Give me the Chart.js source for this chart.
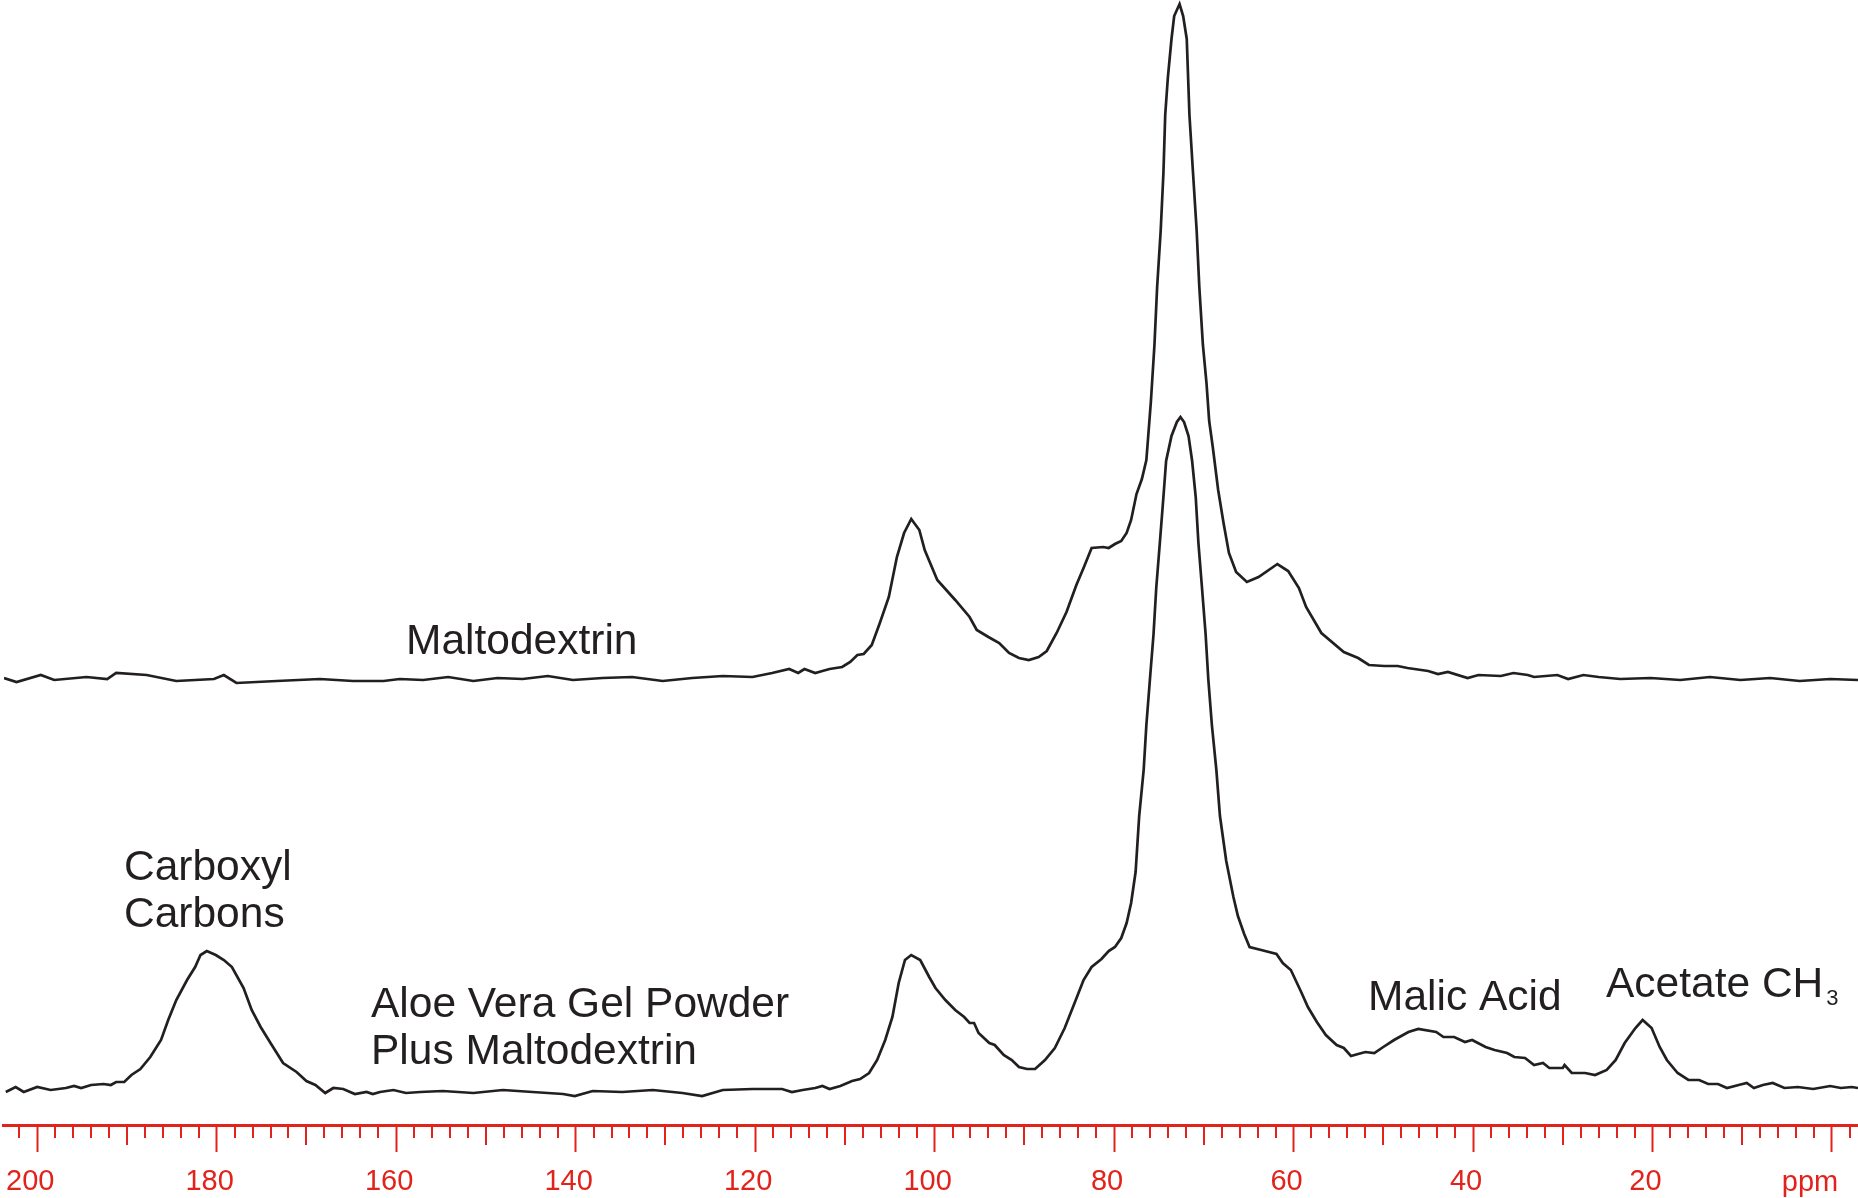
<!DOCTYPE html>
<html>
<head>
<meta charset="utf-8">
<script src="https://cdn.jsdelivr.net/npm/chart.js@4.4.0/dist/chart.umd.min.js"></script>
<style>
  html, body { margin: 0; padding: 0; background: #fff; overflow: hidden; }
</style>
</head>
<body>
<canvas id="nmrChart" width="1858" height="1198"></canvas>
<script>
// 13C CP/MAS spectra, chemical shift in ppm, intensity in arbitrary units (baseline = 0)
const maltoPpm = [203.7,202.3,199.6,198.1,194.5,192.2,191.2,187.8,184.5,180.3,179.2,177.8,173.3,168.5,164.8,161.4,159.6,157.0,154.2,151.4,148.7,145.9,143.1,140.3,137.0,133.7,130.3,127.0,123.6,120.3,118.1,116.2,115.2,114.5,113.3,112.5,111.7,110.3,109.4,108.6,107.9,107.0,106.1,105.1,104.2,103.4,102.6,101.7,101.1,99.7,97.7,96.1,95.3,94.0,92.8,91.7,90.6,89.5,88.4,87.5,86.4,85.3,84.2,83.4,82.5,81.2,80.6,79.9,79.2,78.6,78.1,77.5,76.9,76.4,75.9,75.5,75.2,74.8,74.5,74.3,74.0,73.6,73.3,72.7,72.3,71.9,71.6,71.2,70.8,70.5,70.1,69.7,69.4,69.0,68.4,67.8,67.2,66.4,65.2,63.9,61.8,60.6,59.4,58.6,56.9,54.4,52.8,51.6,49.9,48.4,47.3,45.0,43.9,42.8,40.6,39.4,36.9,35.5,33.9,33.2,30.6,29.4,27.7,26.0,23.6,20.2,16.9,13.6,10.2,6.9,3.6,0.2,-2.9];
const maltoIntensity = [1,-3,4,-1,2,0,6,4,-2,0,4,-4,-2,0,-2,-2,0,-1,2,-2,1,0,3,-1,1,2,-2,1,3,2,6,10,6,10,6,8,10,12,17,24,25,34,56,82,122,146,160,149,129,99,79,62,49,42,36,26,21,19,22,28,46,67,94,111,131,132,131,135,138,146,159,185,200,219,277,334,392,449,506,564,602,640,663,675,663,640,564,506,449,392,334,296,258,232,189,156,126,107,97,102,115,108,91,72,46,27,21,14,13,13,11,8,5,7,1,4,3,6,4,2,4,0,4,2,0,1,-1,2,-1,1,-2,0,-1];

const aloePpm = [203.5,202.4,201.5,200.0,198.5,196.8,195.9,195.1,194.0,192.6,191.8,191.2,190.3,189.5,188.5,187.4,186.2,185.4,184.5,183.3,182.4,181.8,181.1,180.1,179.2,178.3,177.0,176.1,175.1,174.0,172.6,171.1,170.0,169.0,167.9,167.0,165.9,164.6,163.3,162.6,161.8,160.3,158.9,157.3,154.8,151.4,148.1,144.8,141.4,140.1,138.1,134.8,131.4,128.1,125.9,123.6,120.3,117.0,115.9,114.7,113.3,112.5,111.7,110.5,109.2,108.3,107.3,106.4,105.5,104.7,104.0,103.3,102.6,101.6,100.6,99.9,98.8,97.7,96.7,96.1,95.6,95.1,93.9,93.3,92.3,91.4,90.6,89.7,88.8,87.7,86.6,85.5,84.4,83.4,82.5,81.4,80.6,79.9,79.2,78.6,78.1,77.6,77.2,76.7,76.4,76.0,75.6,75.3,74.9,74.5,74.2,73.6,73.0,72.6,72.2,71.7,71.3,70.9,70.6,70.2,69.8,69.5,69.1,68.6,68.2,67.5,66.7,66.2,65.5,64.9,63.6,61.9,61.2,60.3,59.2,58.4,57.4,56.4,55.2,54.4,53.6,52.8,52.0,51.0,50.0,48.8,47.2,46.1,44.1,43.3,42.1,40.9,40.1,38.6,37.6,36.2,35.4,34.2,33.2,32.2,31.5,30.0,29.8,29.0,27.5,26.4,25.1,24.1,23.1,21.9,21.1,20.1,19.2,18.4,17.2,16.0,14.8,13.8,12.7,11.7,10.4,9.5,8.7,7.7,6.6,5.3,3.8,2.1,0.2,-1.0,-2.2,-2.9];
const aloeIntensity = [-5,0,-5,0,-3,-1,1,-1,2,3,2,5,5,12,18,30,47,67,87,107,120,132,136,132,127,120,99,77,60,44,24,15,6,2,-6,-1,-2,-7,-5,-7,-5,-3,-6,-5,-4,-6,-3,-5,-7,-9,-4,-5,-3,-6,-9,-3,-2,-2,-5,-3,-1,1,-2,1,6,8,14,27,47,70,104,127,132,127,110,99,87,77,70,64,64,54,44,42,32,27,20,18,18,27,39,59,84,107,120,128,136,140,149,164,184,215,271,317,362,408,453,499,544,590,626,651,665,670,665,651,626,590,544,499,453,408,362,317,271,226,190,171,153,140,137,133,124,117,96,80,65,52,42,39,31,33,35,34,40,47,55,58,55,50,50,45,47,40,37,34,30,29,22,24,19,19,22,14,14,12,17,27,44,59,67,59,40,27,14,7,7,3,3,-1,2,4,-1,2,4,-1,0,-2,1,-1,0,-1];

// axis ticks
const majorTicks = [200,180,160,140,120,100,80,60,40,20];
const axisUnit = 'ppm';

// annotation texts
const maltoLabel = 'Maltodextrin';
const carboxylLabel = ['Carboxyl', 'Carbons'];
const aloeLabel = ['Aloe Vera Gel Powder', 'Plus Maltodextrin'];
const malicLabel = 'Malic Acid';
const acetateLabel = ['Acetate CH', '3'];

const axisRed = '#e2231c';
const inkColor = '#231f20';
const fontFamily = '"Liberation Sans", Arial, Helvetica, sans-serif';

function toPoints(xs, ys) {
    return xs.map((x, i) => ({x: x, y: ys[i]}));
}

// minor ticks, unit label and peak names
const spectrumDecor = {
    id: 'spectrumDecor',
    afterDraw(chart) {
        const ctx = chart.ctx;
        const xScale = chart.scales.x;
        const axisY = chart.chartArea.bottom;
        ctx.save();
        ctx.strokeStyle = axisRed;
        ctx.lineWidth = 2;
        for (let p = -2; p <= 202; p += 2) {
            if (p % 20 === 0) continue;
            const len = (p % 10 === 0) ? 20 : 13;
            const px = Math.round(xScale.getPixelForValue(p));
            ctx.beginPath();
            ctx.moveTo(px, axisY);
            ctx.lineTo(px, axisY + len);
            ctx.stroke();
        }
        ctx.fillStyle = axisRed;
        ctx.font = '29px ' + fontFamily;
        ctx.textAlign = 'center';
        ctx.textBaseline = 'middle';
        ctx.fillText(axisUnit, xScale.getPixelForValue(0) - 22, 1183);

        ctx.fillStyle = inkColor;
        ctx.textAlign = 'left';
        ctx.textBaseline = 'alphabetic';
        ctx.font = '42.5px ' + fontFamily;
        ctx.fillText(maltoLabel, 406, 654);
        ctx.fillText(carboxylLabel[0], 124, 880);
        ctx.fillText(carboxylLabel[1], 124, 927);
        ctx.fillText(aloeLabel[0], 371, 1017);
        ctx.fillText(aloeLabel[1], 371, 1064);
        ctx.fillText(malicLabel, 1368, 1010);
        ctx.fillText(acetateLabel[0], 1606, 997);
        const w = ctx.measureText(acetateLabel[0]).width;
        ctx.font = '22px ' + fontFamily;
        ctx.fillText(acetateLabel[1], 1606 + w + 3, 1005);
        ctx.restore();
    }
};

new Chart(document.getElementById('nmrChart'), {
    type: 'line',
    data: {
        datasets: [{
            label: 'Maltodextrin',
            data: toPoints(maltoPpm, maltoIntensity),
            yAxisID: 'yTop',
            borderColor: inkColor,
            borderWidth: 2.7,
            pointRadius: 0,
            tension: 0
        }, {
            label: 'Aloe Vera Gel Powder Plus Maltodextrin',
            data: toPoints(aloePpm, aloeIntensity),
            yAxisID: 'y',
            borderColor: inkColor,
            borderWidth: 2.7,
            pointRadius: 0,
            tension: 0
        }]
    },
    options: {
        responsive: false,
        animation: false,
        layout: { padding: 0 },
        plugins: {
            legend: { display: false },
            tooltip: { enabled: false }
        },
        scales: {
            x: {
                type: 'linear',
                reverse: true,
                min: -2.9,
                max: 203.7,
                position: 'bottom',
                border: { display: true, color: axisRed, width: 3 },
                grid: {
                    display: true,
                    drawOnChartArea: false,
                    drawTicks: true,
                    tickLength: 27,
                    tickWidth: 2,
                    tickColor: axisRed,
                    color: axisRed
                },
                ticks: {
                    stepSize: 20,
                    includeBounds: false,
                    autoSkip: false,
                    maxRotation: 0,
                    padding: 13,
                    labelOffset: -7,
                    color: axisRed,
                    font: { family: fontFamily, size: 29 },
                    callback: v => majorTicks.includes(v) ? String(v) : ''
                },
                afterFit: scale => { scale.height = 73; }
            },
            y: {
                display: false,
                min: -38,
                max: 1087
            },
            yTop: {
                display: false,
                min: -446,
                max: 679
            }
        }
    },
    plugins: [spectrumDecor]
});
</script>
</body>
</html>
